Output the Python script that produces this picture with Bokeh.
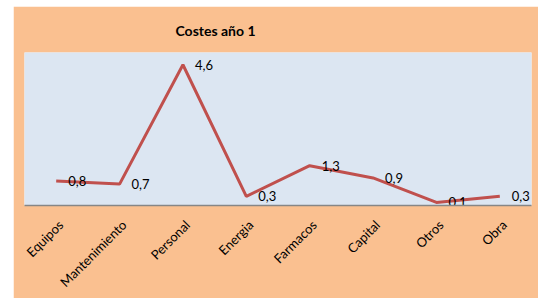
import math
from bokeh.plotting import figure
from bokeh.models import (Range1d, ColumnDataSource, Spacer,
                          LinearAxis, FixedTicker)
from bokeh.layouts import row, column
from bokeh.core.properties import value
from bokeh.embed import file_html
from bokeh.resources import INLINE

categories = ["Equipos", "Mantenimiento", "Personal", "Energia", "Farmacos", "Capital", "Otros", "Obra"]
costs = [0.8, 0.7, 4.6, 0.3, 1.3, 0.9, 0.1, 0.3]
cost_labels = ["0,8", "0,7", "4,6", "0,3", "1,3", "0,9", "0,1", "0,3"]

n = len(categories)
xpos = [i + 0.5 for i in range(n)]
src = ColumnDataSource(dict(x=xpos, y=costs, lab=cost_labels))

p = figure(width=525, height=292, x_range=Range1d(0, n),
           y_range=Range1d(0, 5), output_backend="svg", toolbar_location=None,
           x_axis_location=None, y_axis_location=None,
           min_border_left=11, min_border_right=7, min_border_top=46, min_border_bottom=60)

p.background_fill_color = "#DCE6F2"
p.border_fill_color = "#FAC090"
p.outline_line_color = None
p.xgrid.visible = False
p.ygrid.visible = False

p.title.text = "Costes año 1"
p.title.text_font = "Lato"
p.title.text_font_size = "14px"
p.title.text_font_style = "bold"
p.title.align = "left"
p.title.offset = 151
p.title.standoff = 27
p.title.text_color = "#000000"

# category label axis, shifted slightly right as in the reference
shift = 0.07
p.extra_x_ranges = {"labels": Range1d(-shift, n - shift)}
lab_axis = LinearAxis(x_range_name="labels",
                      ticker=FixedTicker(ticks=xpos, minor_ticks=[]),
                      major_label_overrides={x: c for x, c in zip(xpos, categories)})
lab_axis.axis_line_color = "#868686"
lab_axis.axis_line_width = 1.5
lab_axis.major_tick_line_color = None
lab_axis.minor_tick_line_color = None
lab_axis.major_label_orientation = math.pi / 4
lab_axis.major_label_text_font = "Lato"
lab_axis.major_label_text_font_size = "13px"
lab_axis.major_label_text_color = "#000000"
lab_axis.major_label_standoff = 11
p.add_layout(lab_axis, "below")

p.line("x", "y", source=src, line_color="#C0504D", line_width=3)
p.text("x", "y", text="lab", source=src, x_offset=12, text_baseline="middle",
       text_align="left", text_font=value("Lato"), text_font_size="13px", text_color="#000000")

layout = column(Spacer(width=10, height=6), row(Spacer(width=13, height=292), p))
open("out.html", "w").write(file_html(layout, INLINE))
